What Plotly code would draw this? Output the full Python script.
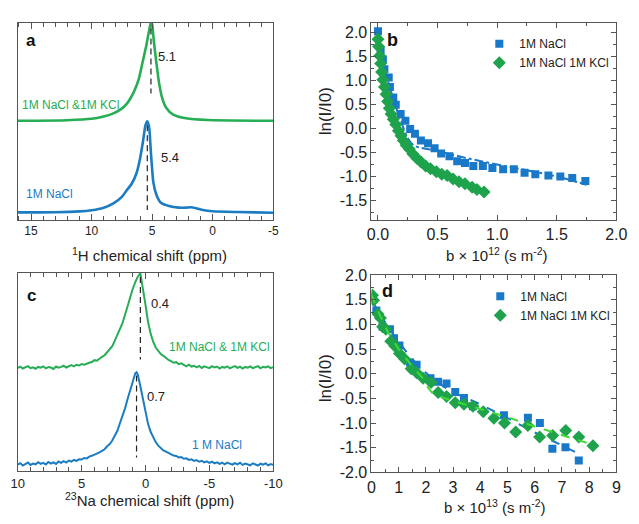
import plotly.graph_objects as go

# ---------------- data ----------------
# (a) 1H spectra, ppm / relative intensity
h_nacl_ppm = [16.1, 13.0, 11.0, 10.0, 9.0, 8.2, 7.5, 7.1, 6.7, 6.3, 6.0, 5.75, 5.55, 5.4,
              5.25, 5.1, 4.9, 4.65, 4.3, 3.6, 2.8, 2.2, 1.8, 1.3, 0.8, 0.0, -2.0, -5.1]
h_nacl_int = [0.038, 0.039, 0.043, 0.049, 0.062, 0.084, 0.117, 0.150, 0.182, 0.235, 0.31, 0.40,
              0.48, 0.50, 0.47, 0.34, 0.19, 0.127, 0.088, 0.070, 0.062, 0.062, 0.064, 0.058,
              0.050, 0.044, 0.040, 0.036]
h_mix_ppm = [16.1, 12.0, 10.0, 9.0, 8.3, 7.6, 7.1, 6.5, 6.1, 5.8, 5.5, 5.3, 5.15, 5.1, 5.0,
             4.87, 4.65, 4.44, 4.17, 3.84, 3.3, 2.2, 0.4, -5.1]
h_mix_int = [0.502, 0.505, 0.512, 0.524, 0.537, 0.560, 0.588, 0.650, 0.714, 0.796, 0.878,
             0.943, 0.990, 1.000, 0.990, 0.910, 0.796, 0.698, 0.617, 0.568, 0.535, 0.515,
             0.506, 0.502]
h_peaks = [5.1, 5.4]          # mix, NaCl

# (c) 23Na spectra
na_mix_ppm = [10.0, 9.8, 9.6, 9.4, 9.2, 9.0, 8.8, 8.6, 8.4, 8.2, 8.0, 7.8, 7.6, 7.4, 7.2, 7.0,
              6.8, 6.6, 6.4, 6.2, 6.0, 5.8, 5.6, 5.4, 5.2, 5.0, 4.8, 4.6, 4.4, 4.2, 4.0, 3.8,
              3.6, 3.4, 3.2, 3.0, 2.8, 2.6, 2.4, 2.2, 2.0, 1.8, 1.6, 1.4, 1.2, 1.0, 0.8, 0.6,
              0.4, 0.2, 0.0, -0.2, -0.4, -0.6, -0.8, -1.0, -1.2, -1.4, -1.6, -1.8, -2.0, -2.2,
              -2.4, -2.6, -2.8, -3.0, -3.2, -3.4, -3.6, -3.8, -4.0, -4.2, -4.4, -4.6, -4.8,
              -5.0, -5.2, -5.4, -5.6, -5.8, -6.0, -6.2, -6.4, -6.6, -6.8, -7.0, -7.2, -7.4,
              -7.6, -7.8, -8.0, -8.2, -8.4, -8.6, -8.8, -9.0, -9.2, -9.4, -9.6, -9.8, -10.0]
na_mix_int = [0.522, 0.528, 0.519, 0.526, 0.531, 0.521, 0.525, 0.518, 0.527, 0.523, 0.530,
              0.520, 0.526, 0.524, 0.517, 0.529, 0.523, 0.527, 0.533, 0.524, 0.529, 0.536,
              0.530, 0.538, 0.534, 0.541, 0.538, 0.545, 0.548, 0.552, 0.561, 0.558, 0.570,
              0.578, 0.586, 0.600, 0.618, 0.632, 0.660, 0.688, 0.718, 0.748, 0.790, 0.835,
              0.872, 0.920, 0.955, 0.982, 1.000, 0.930, 0.840, 0.755, 0.695, 0.655, 0.625,
              0.608, 0.592, 0.583, 0.570, 0.562, 0.556, 0.548, 0.551, 0.541, 0.545, 0.536,
              0.530, 0.538, 0.529, 0.533, 0.525, 0.532, 0.522, 0.530, 0.527, 0.521, 0.531,
              0.524, 0.529, 0.519, 0.527, 0.523, 0.530, 0.520, 0.526, 0.531, 0.522, 0.528,
              0.519, 0.527, 0.523, 0.530, 0.521, 0.526, 0.531, 0.520, 0.528, 0.524, 0.530,
              0.521, 0.526]
na_nacl_ppm = [10.0, 9.8, 9.6, 9.4, 9.2, 9.0, 8.8, 8.6, 8.4, 8.2, 8.0, 7.8, 7.6, 7.4, 7.2,
               7.0, 6.8, 6.6, 6.4, 6.2, 6.0, 5.8, 5.6, 5.4, 5.2, 5.0, 4.8, 4.6, 4.4, 4.2, 4.0,
               3.8, 3.6, 3.4, 3.2, 3.0, 2.8, 2.6, 2.4, 2.2, 2.0, 1.8, 1.6, 1.4, 1.2, 1.0, 0.8,
               0.7, 0.6, 0.4, 0.2, 0.0, -0.2, -0.4, -0.6, -0.8, -1.0, -1.2, -1.4, -1.6, -1.8,
               -2.0, -2.2, -2.4, -2.6, -2.8, -3.0, -3.2, -3.4, -3.6, -3.8, -4.0, -4.2, -4.4,
               -4.6, -4.8, -5.0, -5.2, -5.4, -5.6, -5.8, -6.0, -6.2, -6.4, -6.6, -6.8, -7.0,
               -7.2, -7.4, -7.6, -7.8, -8.0, -8.2, -8.4, -8.6, -8.8, -9.0, -9.2, -9.4, -9.6,
               -9.8, -10.0]
na_nacl_int = [0.035, 0.042, 0.030, 0.038, 0.045, 0.033, 0.040, 0.036, 0.047, 0.038, 0.043,
               0.035, 0.048, 0.040, 0.046, 0.038, 0.050, 0.043, 0.052, 0.045, 0.055, 0.050,
               0.058, 0.053, 0.061, 0.060, 0.068, 0.066, 0.075, 0.079, 0.084, 0.090, 0.096,
               0.104, 0.112, 0.127, 0.138, 0.156, 0.178, 0.205, 0.243, 0.278, 0.318, 0.365,
               0.412, 0.462, 0.495, 0.500, 0.488, 0.430, 0.362, 0.290, 0.240, 0.200, 0.170,
               0.148, 0.130, 0.118, 0.106, 0.100, 0.092, 0.088, 0.080, 0.078, 0.071, 0.073,
               0.064, 0.066, 0.058, 0.061, 0.053, 0.057, 0.049, 0.054, 0.046, 0.051, 0.043,
               0.049, 0.041, 0.046, 0.038, 0.044, 0.036, 0.045, 0.039, 0.034, 0.042, 0.036,
               0.044, 0.033, 0.040, 0.037, 0.031, 0.041, 0.035, 0.030, 0.039, 0.034, 0.041,
               0.031, 0.037, 0.033]
na_peaks = [0.4, 0.7]         # mix, NaCl

# (b) diffusion decay, b in 1e12 s m^-2
b12_nacl = [0.0, 0.022, 0.041, 0.054, 0.09, 0.10, 0.128, 0.149, 0.19, 0.23, 0.27, 0.31, 0.36,
            0.42, 0.475, 0.53, 0.60, 0.665, 0.73, 0.80, 0.88, 0.96, 1.05, 1.14, 1.23, 1.32,
            1.43, 1.53, 1.63, 1.74]
ln12_nacl = [2.02, 1.63, 1.43, 1.23, 1.06, 0.86, 0.64, 0.49, 0.30, 0.16, -0.01, -0.11, -0.25,
             -0.31, -0.41, -0.52, -0.58, -0.68, -0.72, -0.78, -0.78, -0.82, -0.85, -0.85,
             -0.92, -0.95, -0.98, -1.00, -1.03, -1.09]
b12_mix = [0.0, 0.005, 0.014, 0.022, 0.03, 0.041, 0.054, 0.068, 0.081, 0.095, 0.11, 0.128,
           0.149, 0.171, 0.193, 0.212, 0.236, 0.263, 0.293, 0.326, 0.361, 0.40, 0.44, 0.49,
           0.535, 0.58, 0.63, 0.68, 0.73, 0.79, 0.83, 0.89]
ln12_mix = [1.85, 1.70, 1.51, 1.35, 1.17, 1.01, 0.86, 0.71, 0.56, 0.42, 0.30, 0.19, 0.08,
            -0.05, -0.15, -0.25, -0.35, -0.43, -0.53, -0.62, -0.70, -0.78, -0.84, -0.90,
            -0.95, -0.98, -1.05, -1.11, -1.15, -1.22, -1.27, -1.32]
fit12_nacl_b = [0.0, 0.05, 0.10, 0.15, 0.20, 0.25, 0.30, 0.50, 0.75, 1.00, 1.25, 1.50, 1.75]
fit12_nacl_y = [1.95, 1.30, 0.85, 0.45, 0.10, -0.20, -0.35, -0.47, -0.62, -0.75, -0.87, -1.00, -1.17]
fit12_mix_b = [0.0, 0.02, 0.05, 0.10, 0.15, 0.20, 0.30, 0.40, 0.50, 0.60, 0.70, 0.80, 0.89]
fit12_mix_y = [1.85, 1.40, 0.95, 0.45, 0.10, -0.15, -0.52, -0.76, -0.92, -1.02, -1.12, -1.23, -1.32]

# (d) diffusion decay, b in 1e13 s m^-2
b13_nacl = [0.04, 0.18, 0.41, 0.68, 0.83, 1.03, 1.42, 1.66, 2.17, 2.45, 2.76, 3.08, 3.40,
            3.73, 4.87, 5.75, 6.19, 6.65, 7.13, 7.62]
ln13_nacl = [1.55, 1.28, 0.95, 0.90, 0.72, 0.57, 0.23, 0.18, -0.09, -0.16, -0.20, -0.37,
             -0.49, -0.66, -0.84, -0.89, -1.00, -1.52, -1.49, -1.76]
b13_mix = [0.04, 0.08, 0.24, 0.33, 0.41, 0.53, 0.71, 0.86, 1.03, 1.22, 1.46, 1.66, 1.90,
           2.19, 2.45, 2.76, 3.08, 3.40, 3.73, 4.11, 4.50, 4.89, 5.30, 5.75, 6.18, 6.66,
           7.14, 7.62, 8.14]
ln13_mix = [1.59, 1.49, 1.21, 1.13, 0.95, 0.90, 0.66, 0.56, 0.41, 0.30, 0.10, 0.02, -0.09,
            -0.18, -0.38, -0.46, -0.59, -0.62, -0.66, -0.77, -0.90, -1.00, -1.18, -1.05,
            -1.28, -1.25, -1.15, -1.28, -1.46]
fit13_nacl_b = [0.0, 0.5, 1.0, 1.5, 2.0, 2.5, 3.0, 4.0, 5.0, 6.0, 7.0, 7.6]
fit13_nacl_y = [1.50, 1.05, 0.65, 0.30, 0.02, -0.20, -0.37, -0.62, -0.90, -1.19, -1.45, -1.62]
fit13_mix_b = [0.0, 0.3, 0.6, 1.0, 1.5, 1.9, 2.1, 2.3, 3.0, 4.0, 5.0, 6.0, 7.0, 8.2]
fit13_mix_y = [1.60, 1.20, 0.85, 0.50, 0.15, -0.10, -0.30, -0.43, -0.55, -0.72, -0.88, -1.07, -1.25, -1.45]

b_ticks = [0.0, 0.5, 1.0, 1.5, 2.0]
b_ticktext = ["0.0", "0.5", "1.0", "1.5", "2.0"]
b_yticks = [-1.5, -1.0, -0.5, 0.0, 0.5, 1.0, 1.5, 2.0]
b_yticktext = ["-1.5", "-1.0", "-0.5", "0.0", "0.5", "1.0", "1.5", "2.0"]
d_yticks = [-2.0, -1.5, -1.0, -0.5, 0.0, 0.5, 1.0, 1.5, 2.0]
d_yticktext = ["-2.0", "-1.5", "-1.0", "-0.5", "0.0", "0.5", "1.0", "1.5", "2.0"]
d_xticks = [0, 1, 2, 3, 4, 5, 6, 7, 8, 9]
h_xticks = [15, 10, 5, 0, -5]
h_xticktext = ["15", "10", "5", "0", "-5"]
na_xticks = [10, 5, 0, -5, -10]
na_xticktext = ["10", "5", "0", "-5", "-10"]

# ---------------- style ----------------
W, H = 639, 524
BLUE = "#1b7cc2"
GREEN = "#27ad55"
MBLUE = "#1a78c8"
MGREEN = "#1ea34c"
LIME = "#3fd932"
FRAME = "#555555"
FONT = "Arial, Liberation Sans, sans-serif"


def px(x, y):
    return x / W, 1 - y / H


fig = go.Figure()

# panel a
fig.add_trace(go.Scatter(x=h_mix_ppm, y=h_mix_int, mode="lines", line=dict(color=GREEN, width=2.6, shape="spline", smoothing=0.6),
                         xaxis="x", yaxis="y", showlegend=False))
fig.add_trace(go.Scatter(x=h_nacl_ppm, y=h_nacl_int, mode="lines", line=dict(color=BLUE, width=2.6, shape="spline", smoothing=0.6),
                         xaxis="x", yaxis="y", showlegend=False))
fig.add_trace(go.Scatter(x=[h_peaks[0], h_peaks[0]], y=[0.97, 0.64], mode="lines", line=dict(color="#222", width=1.2, dash="6px,4px"),
                         xaxis="x", yaxis="y", showlegend=False))
fig.add_trace(go.Scatter(x=[h_peaks[1], h_peaks[1]], y=[0.48, 0.05], mode="lines", line=dict(color="#222", width=1.2, dash="6px,4px"),
                         xaxis="x", yaxis="y", showlegend=False))

# panel c
fig.add_trace(go.Scatter(x=na_mix_ppm, y=na_mix_int, mode="lines", line=dict(color=GREEN, width=2.0),
                         xaxis="x3", yaxis="y3", showlegend=False))
fig.add_trace(go.Scatter(x=na_nacl_ppm, y=na_nacl_int, mode="lines", line=dict(color=BLUE, width=2.0),
                         xaxis="x3", yaxis="y3", showlegend=False))
fig.add_trace(go.Scatter(x=[na_peaks[0], na_peaks[0]], y=[0.98, 0.565], mode="lines", line=dict(color="#222", width=1.2, dash="6px,4px"),
                         xaxis="x3", yaxis="y3", showlegend=False))
fig.add_trace(go.Scatter(x=[na_peaks[1], na_peaks[1]], y=[0.484, 0.07], mode="lines", line=dict(color="#222", width=1.2, dash="6px,4px"),
                         xaxis="x3", yaxis="y3", showlegend=False))

# panel b
fig.add_trace(go.Scatter(x=fit12_nacl_b, y=fit12_nacl_y, mode="lines", line=dict(color=MBLUE, width=2, dash="dashdot", shape="spline"),
                         xaxis="x2", yaxis="y2", showlegend=False))
fig.add_trace(go.Scatter(x=fit12_mix_b, y=fit12_mix_y, mode="lines", line=dict(color="#168a3c", width=2, dash="dash", shape="spline"),
                         xaxis="x2", yaxis="y2", showlegend=False))
fig.add_trace(go.Scatter(x=b12_nacl, y=ln12_nacl, mode="markers", name="1M NaCl",
                         marker=dict(symbol="square", size=8, color=MBLUE),
                         xaxis="x2", yaxis="y2", legend="legend"))
fig.add_trace(go.Scatter(x=b12_mix, y=ln12_mix, mode="markers", name="1M NaCl 1M KCl",
                         marker=dict(symbol="diamond", size=10, color=MGREEN),
                         xaxis="x2", yaxis="y2", legend="legend"))

# panel d
fig.add_trace(go.Scatter(x=fit13_nacl_b, y=fit13_nacl_y, mode="lines", line=dict(color=MBLUE, width=2, dash="dash", shape="spline"),
                         xaxis="x4", yaxis="y4", showlegend=False))
fig.add_trace(go.Scatter(x=b13_nacl, y=ln13_nacl, mode="markers", name="1M NaCl",
                         marker=dict(symbol="square", size=8, color=MBLUE),
                         xaxis="x4", yaxis="y4", legend="legend2"))
fig.add_trace(go.Scatter(x=b13_mix, y=ln13_mix, mode="markers", name="1M NaCl 1M KCl",
                         marker=dict(symbol="diamond", size=10, color=MGREEN),
                         xaxis="x4", yaxis="y4", legend="legend2"))
fig.add_trace(go.Scatter(x=fit13_mix_b, y=fit13_mix_y, mode="lines", line=dict(color=LIME, width=2, dash="dash"),
                         xaxis="x4", yaxis="y4", showlegend=False))

frame = dict(showline=True, linecolor=FRAME, linewidth=1, mirror="ticks", showgrid=False, zeroline=False,
             ticks="inside", tickcolor=FRAME)

dA = [px(11, 0)[0], px(274, 0)[0]]
dB = [px(375, 0)[0], px(627, 0)[0]]
yTop = [px(0, 219)[1], px(0, 15)[1]]
yBot = [px(0, 479)[1], px(0, 274)[1]]
yBotD = [px(0, 480)[1], px(0, 276)[1]]

fig.update_layout(
    width=W, height=H, margin=dict(l=0, r=0, t=0, b=0),
    paper_bgcolor="white", plot_bgcolor="white",
    font=dict(family=FONT, color="#222"),
    xaxis=dict(domain=dA, range=[16.1, -5], tickvals=h_xticks, ticktext=h_xticktext, ticklen=6,
               minor=dict(dtick=1, tick0=0, ticklen=4, ticks="inside", tickcolor=FRAME),
               tickfont=dict(size=12), anchor="y", **frame),
    yaxis=dict(domain=yTop, range=[0, 1.0], showticklabels=False, ticks="", showline=True, linecolor=FRAME,
               mirror=True, showgrid=False, zeroline=False, anchor="x"),
    xaxis3=dict(domain=dA, range=[10, -10], tickvals=na_xticks, ticktext=na_xticktext, ticklen=6,
                minor=dict(dtick=1, tick0=0, ticklen=4, ticks="inside", tickcolor=FRAME),
                tickfont=dict(size=13), anchor="y3", **frame),
    yaxis3=dict(domain=yBot, range=[0, 1.0], showticklabels=False, ticks="", showline=True, linecolor=FRAME,
                mirror=True, showgrid=False, zeroline=False, anchor="x3"),
    xaxis2=dict(domain=dB, range=[-0.055, 2.0], tickvals=b_ticks, ticktext=b_ticktext, ticklen=5,
                minor=dict(dtick=0.25, tick0=0, ticklen=3, ticks="inside", tickcolor=FRAME),
                tickfont=dict(size=16), anchor="y2", **frame),
    yaxis2=dict(domain=yTop, range=[-1.9, 2.2], tickvals=b_yticks, ticktext=b_yticktext, ticklen=5,
                minor=dict(dtick=0.25, tick0=0, ticklen=3, ticks="inside", tickcolor=FRAME),
                tickfont=dict(size=16), anchor="x2", **frame),
    xaxis4=dict(domain=dB, range=[0, 9], tickvals=d_xticks, ticklen=5,
                minor=dict(dtick=0.5, tick0=0, ticklen=3, ticks="inside", tickcolor=FRAME),
                tickfont=dict(size=16), anchor="y4", **frame),
    yaxis4=dict(domain=yBotD, range=[-2.0, 2.0], tickvals=d_yticks, ticktext=d_yticktext, ticklen=5,
                minor=dict(dtick=0.25, tick0=0, ticklen=3, ticks="inside", tickcolor=FRAME),
                tickfont=dict(size=16), anchor="x4", **frame),
    legend=dict(x=px(486, 0)[0], y=px(0, 22)[1], xanchor="left", yanchor="top", bgcolor="rgba(0,0,0,0)",
                font=dict(size=12), tracegroupgap=0, itemwidth=30),
    legend2=dict(x=px(487, 0)[0], y=px(0, 283)[1], xanchor="left", yanchor="top", bgcolor="rgba(0,0,0,0)",
                 font=dict(size=12), tracegroupgap=0, itemwidth=30),
)

ann = []


def text(x, y, s, size=12, color="#222", bold=False, angle=0, xanchor="center"):
    xx, yy = px(x, y)
    ann.append(dict(x=xx, y=yy, xref="paper", yref="paper", text=f"<b>{s}</b>" if bold else s,
                    showarrow=False, font=dict(size=size, color=color, family=FONT),
                    textangle=angle, xanchor=xanchor, yanchor="middle"))


# panel letters
text(25, 34, "a", 17, "#111", True)
text(397, 33, "b", 18, "#111", True)
text(25, 297, "c", 17, "#111", True)
text(392, 293, "d", 18, "#111", True)

# peak annotations and sample labels
text(165, 50, "5.1", 13)
text(168, 154, "5.4", 13)
text(157, 305, "0.4", 13)
text(153, 402, "0.7", 13)
text(13, 100, "1M NaCl &1M KCl", 12, GREEN, xanchor="left")
text(18, 192, "1M NaCl", 12, BLUE, xanchor="left")
text(165, 350, "1M NaCl & 1M KCl", 12, GREEN, xanchor="left")
text(188, 452, "1 M NaCl", 12, BLUE, xanchor="left")

# axis titles
text(147, 255, "<sup>1</sup>H chemical shift (ppm)", 15)
text(504, 255, "b × 10<sup>12</sup> (s m<sup>-2</sup>)", 15)
text(147, 508, "<sup>23</sup>Na chemical shift (ppm)", 15)
text(502, 515, "b × 10<sup>13</sup> (s m<sup>-2</sup>)", 15)
text(328, 107, "ln(I/I0)", 17, angle=-90)
text(328, 383, "ln(I/I0)", 17, angle=-90)

fig.update_layout(annotations=ann)
fig.write_html("out.html")
